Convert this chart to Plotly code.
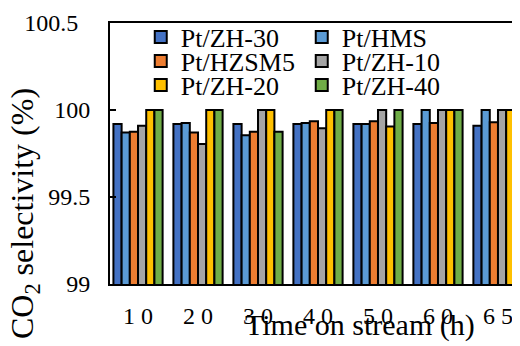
import plotly.graph_objects as go

categories = ["10", "20", "30", "40", "50", "60", "65"]
tick_labels = ["1 0", "2 0", "3 0", "4 0", "5 0", "6 0", "6 5"]
y_tick_vals = [99, 99.5, 100, 100.5]
y_tick_labels = ["99", "99.5", "100", "100.5\u00a0\u00a0"]
series_names = ["Pt/ZH-30", "Pt/HMS", "Pt/HZSM5", "Pt/ZH-10", "Pt/ZH-20", "Pt/ZH-40"]
zh30 = [99.92, 99.92, 99.92, 99.92, 99.92, 99.92, 99.91]
hms = [99.87, 99.925, 99.855, 99.925, 99.92, 100.0, 100.0]
hzsm5 = [99.875, 99.87, 99.875, 99.935, 99.935, 99.925, 99.93]
zh10 = [99.91, 99.805, 100.0, 99.895, 100.0, 100.0, 100.0]
zh20 = [100.0, 100.0, 100.0, 100.0, 99.905, 100.0, 100.0]
zh40 = [100.0, 100.0, 99.875, 100.0, 100.0, 100.0, 100.0]
colors = ["#4472C4", "#5B9BD5", "#ED7D31", "#A5A5A5", "#FFC000", "#70AD47"]

series = [zh30, hms, hzsm5, zh10, zh20, zh40]
legend_ids = ["legend", "legend", "legend2", "legend2", "legend3", "legend3"]
xpos = list(range(len(categories)))
FONT = "Times New Roman, Liberation Serif, serif"

fig = go.Figure()
for name, vals, col, lg in zip(series_names, series, colors, legend_ids):
    fig.add_trace(go.Bar(x=xpos, y=vals, name=name, legend=lg,
                         marker=dict(color=col, line=dict(color="black", width=2))))

def legend_row(yval):
    return dict(orientation="h", x=0.075, y=yval, xanchor="left", yanchor="middle",
                entrywidth=116, entrywidthmode="pixels",
                font=dict(family=FONT, size=26, color="black"),
                bgcolor="rgba(0,0,0,0)", itemwidth=30, traceorder="normal",
                borderwidth=0)

fig.update_layout(
    width=520, height=346,
    margin=dict(l=102, r=8, t=15, b=70, autoexpand=False),
    paper_bgcolor="white", plot_bgcolor="white",
    barmode="group", bargap=0.18, bargroupgap=0,
    font=dict(family=FONT, color="black", size=24),
    showlegend=True,
    legend=legend_row(0.946),
    legend2=legend_row(0.854),
    legend3=legend_row(0.762),
    xaxis=dict(range=[-0.467, 6.367], tickvals=xpos, ticktext=tick_labels,
               showline=True, linecolor="black", linewidth=2, mirror=True,
               ticks="", ticklabelstandoff=9, showgrid=False, zeroline=False,
               automargin=False, tickfont=dict(family=FONT, size=24)),
    yaxis=dict(range=[99, 100.5], tickvals=y_tick_vals, ticktext=y_tick_labels,
               showline=True, linecolor="black", linewidth=2, mirror=True,
               ticks="inside", ticklen=6, tickwidth=2, tickcolor="black",
               ticklabelstandoff=13, showgrid=False, zeroline=False,
               automargin=False, tickfont=dict(family=FONT, size=24)),
)
fig.add_annotation(text="Time on stream (h)", xref="paper", yref="paper",
                   x=0.61, y=0, yshift=-22, xanchor="center", yanchor="top",
                   showarrow=False, font=dict(family=FONT, size=30, color="black"))
fig.add_annotation(text="CO<sub>2</sub> selectivity (%)", xref="paper", yref="paper",
                   x=0, xshift=-86, y=0.268, xanchor="center", yanchor="middle",
                   textangle=-90, showarrow=False,
                   font=dict(family=FONT, size=32, color="black"))

fig.write_html("out.html")
